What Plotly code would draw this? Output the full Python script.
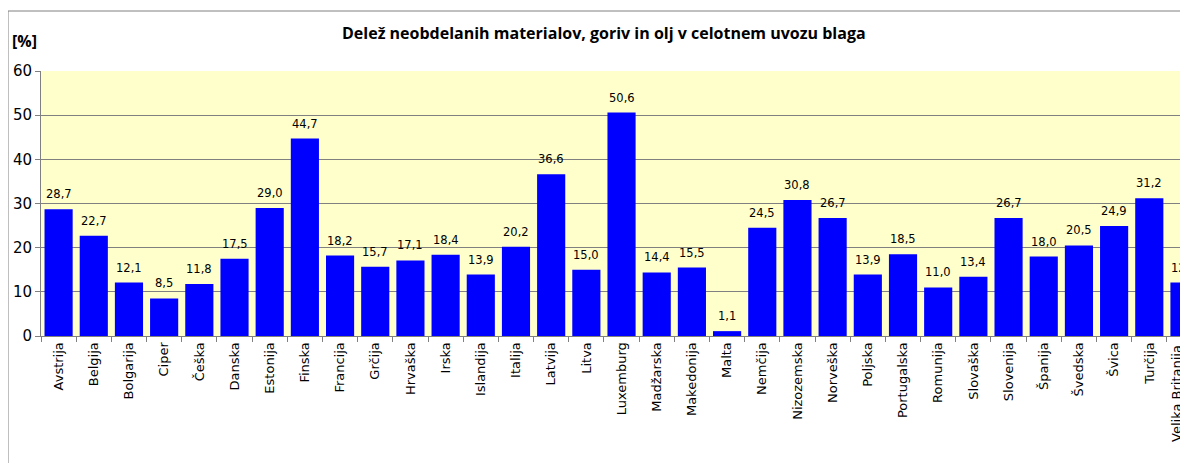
import plotly.graph_objects as go

countries = ["Avstrija", "Belgija", "Bolgarija", "Ciper", "Češka", "Danska", "Estonija",
             "Finska", "Francija", "Grčija", "Hrvaška", "Irska", "Islandija", "Italija",
             "Latvija", "Litva", "Luxemburg", "Madžarska", "Makedonija", "Malta", "Nemčija",
             "Nizozemska", "Norveška", "Poljska", "Portugalska", "Romunija", "Slovaška",
             "Slovenija", "Španija", "Švedska", "Švica", "Turčija", "Velika Britanija"]
values = [28.7, 22.7, 12.1, 8.5, 11.8, 17.5, 29.0, 44.7, 18.2, 15.7, 17.1, 18.4, 13.9, 20.2,
          36.6, 15.0, 50.6, 14.4, 15.5, 1.1, 24.5, 30.8, 26.7, 13.9, 18.5, 11.0, 13.4,
          26.7, 18.0, 20.5, 24.9, 31.2, 12.1]
y_ticks = [0, 10, 20, 30, 40, 50, 60]

labels = [f"{v:.1f}".replace(".", ",") for v in values]

# the page body adds an 8px offset, so the figure is laid out 8px smaller
OFF = 8
W, H = 1188 - OFF, 463 - OFF
L, R, T, B = 41 - OFF, 0, 71 - OFF, 127
pw, ph = W - L - R, H - T - B

fig = go.Figure(go.Bar(
    x=countries, y=values,
    marker=dict(color="#0000FF", line=dict(width=0)),
))

for c, v, t in zip(countries, values, labels):
    fig.add_annotation(x=c, y=v, text=t, xref="x", yref="y", showarrow=False,
                       xanchor="center", yanchor="bottom", yshift=6,
                       font=dict(family="DejaVu Sans", size=11.5, color="black"))

# last category label sits partly outside the cropped chart; nudge it inward like the original
fig.add_annotation(x=countries[-1], y=0, text=countries[-1], xref="x", yref="y",
                   showarrow=False, textangle=-90, xanchor="center", yanchor="top",
                   xshift=-8, yshift=-7,
                   font=dict(family="DejaVu Sans", size=13, color="black"))

fig.update_layout(
    width=W, height=H,
    margin=dict(l=L, r=R, t=T, b=B, autoexpand=False),
    paper_bgcolor="white", plot_bgcolor="#FFFFCC",
    bargap=0.2, showlegend=False,
    font=dict(family="DejaVu Sans", color="black"),
)
fig.update_xaxes(
    range=[-0.5, 32.1], tickangle=-90, tickson="boundaries", automargin=False,
    tickmode="array", tickvals=countries[:-1], ticktext=countries[:-1],
    ticks="outside", ticklen=5, tickcolor="#808080", ticklabeloverflow="allow",
    showline=True, linecolor="#808080", linewidth=1,
    tickfont=dict(family="DejaVu Sans", size=13, color="black"),
    showgrid=False,
)
fig.update_yaxes(
    range=[0, 60], tickvals=y_ticks, ticks="outside", ticklen=5, tickcolor="#808080",
    showline=True, linecolor="#808080", linewidth=1, automargin=False,
    showgrid=True, gridcolor="#808080", gridwidth=1, zeroline=False,
    tickfont=dict(family="DejaVu Sans", size=15, color="black"),
)

# outer chart frame (left and top edges visible)
fx = (8 - 41) / pw
fy = (336 - 11) / ph
fig.add_shape(type="line", xref="paper", yref="paper", x0=fx, x1=1.0, y0=fy, y1=fy,
              line=dict(color="#808080", width=1))
fig.add_shape(type="line", xref="paper", yref="paper", x0=fx, x1=fx, y0=-B / ph, y1=fy,
              line=dict(color="#808080", width=1))

fig.add_annotation(text="<b>Delež neobdelanih materialov, goriv in olj v celotnem uvozu blaga</b>",
                   xref="paper", yref="paper", x=(604 - 41) / pw, y=(336 - 33) / ph,
                   xanchor="center", yanchor="middle", showarrow=False,
                   font=dict(family="Open Sans", size=16, color="black"))
fig.add_annotation(text="<b>[%]</b>", xref="paper", yref="paper", x=(10 - 41) / pw,
                   y=(336 - 41) / ph,
                   xanchor="left", yanchor="middle", showarrow=False,
                   font=dict(family="Open Sans", size=16, color="black"))

fig.write_html("out.html")
